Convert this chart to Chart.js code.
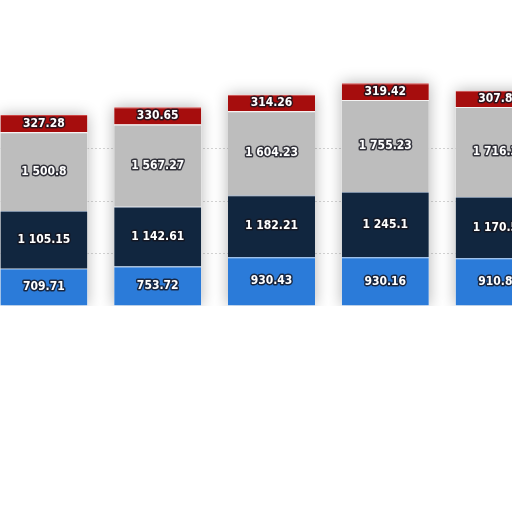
<!DOCTYPE html>
<html>
<head>
<meta charset="utf-8">
<script src="https://cdn.jsdelivr.net/npm/chart.js@4"></script>
<style>
  html, body { margin: 0; padding: 0; background: #fff; overflow: hidden; width: 512px; height: 512px; }
  .wrap { position: absolute; left: -13px; top: 44px; width: 569px; height: 262px; }
</style>
</head>
<body>
<div class="wrap"><canvas id="chart"></canvas></div>
<script>
const categories = ['P1', 'P2', 'P3', 'P4', 'P5'];
const seriesA = [709.71, 753.72, 930.43, 930.16, 910.85];
const seriesB = [1105.15, 1142.61, 1182.21, 1245.1, 1170.54];
const seriesC = [1500.8, 1567.27, 1604.23, 1755.23, 1716.38];
const seriesD = [327.28, 330.65, 314.26, 319.42, 307.86];

const fmt = v => {
    const parts = String(v).split('.');
    parts[0] = parts[0].replace(/\B(?=(\d{3})+(?!\d))/g, ' ');
    return parts.join('.');
};

// soft halo behind each whole stack
const stackShadow = {
    id: 'stackShadow',
    beforeDatasetsDraw(chart) {
        const ctx = chart.ctx;
        const first = chart.getDatasetMeta(0).data;
        const last = chart.getDatasetMeta(chart.data.datasets.length - 1).data;
        ctx.save();
        ctx.shadowColor = 'rgba(0,0,0,0.3)';
        ctx.shadowBlur = 14;
        ctx.fillStyle = '#fff';
        first.forEach((bar, j) => {
            const b = bar.getProps(['x', 'base', 'width'], true);
            const top = last[j].getProps(['y'], true).y;
            ctx.fillRect(b.x - b.width / 2, top, b.width, b.base - top);
        });
        ctx.restore();
    }
};

// white labels with a dark outline, centred in each segment
const segmentLabels = {
    id: 'segmentLabels',
    afterDatasetsDraw(chart) {
        const ctx = chart.ctx;
        ctx.save();
        ctx.font = 'bold 12px "DejaVu Sans Condensed", "DejaVu Sans", sans-serif';
        ctx.textAlign = 'center';
        ctx.textBaseline = 'middle';
        ctx.lineJoin = 'round';
        chart.data.datasets.forEach((ds, i) => {
            chart.getDatasetMeta(i).data.forEach((bar, j) => {
                const { x, y, base } = bar.getProps(['x', 'y', 'base'], true);
                const cy = (y + base) / 2;
                const txt = fmt(ds.data[j]);
                ctx.lineWidth = 3;
                ctx.strokeStyle = 'rgba(20,20,30,0.8)';
                ctx.strokeText(txt, x, cy);
                ctx.fillStyle = '#fff';
                ctx.fillText(txt, x, cy);
            });
        });
        ctx.restore();
    }
};

const mk = (label, data, color, edge) => ({
    label: label,
    data: data,
    backgroundColor: color,
    borderColor: edge,
    borderWidth: { top: 1, bottom: 0, left: 0, right: 0 },
    borderSkipped: false,
    barPercentage: 0.765,
    categoryPercentage: 1
});

new Chart(document.getElementById('chart'), {
    type: 'bar',
    data: {
        labels: categories,
        datasets: [
            mk('Series A', seriesA, '#2b7bd9', '#5e9be3'),
            mk('Series B', seriesB, '#11263f', '#7d8fa6'),
            mk('Series C', seriesC, '#bdbdbd', '#f2f2f2'),
            mk('Series D', seriesD, '#a60d0d', '#c44')
        ]
    },
    options: {
        responsive: true,
        maintainAspectRatio: false,
        animation: false,
        layout: { padding: 0 },
        plugins: { legend: { display: false }, tooltip: { enabled: false } },
        scales: {
            x: {
                stacked: true,
                ticks: { display: false },
                grid: { display: false, drawTicks: false },
                border: { display: true, color: '#cfcfcf', width: 1 }
            },
            y: {
                stacked: true,
                min: 0,
                max: 5000,
                ticks: { display: false, stepSize: 1000 },
                grid: {
                    color: c => (c.tick && c.tick.value > 0 && c.tick.value <= 3000) ? '#d6d6d6' : 'rgba(0,0,0,0)',
                    drawTicks: false
                },
                border: { display: false, dash: [2, 2] }
            }
        }
    },
    plugins: [stackShadow, segmentLabels]
});
</script>
</body>
</html>
